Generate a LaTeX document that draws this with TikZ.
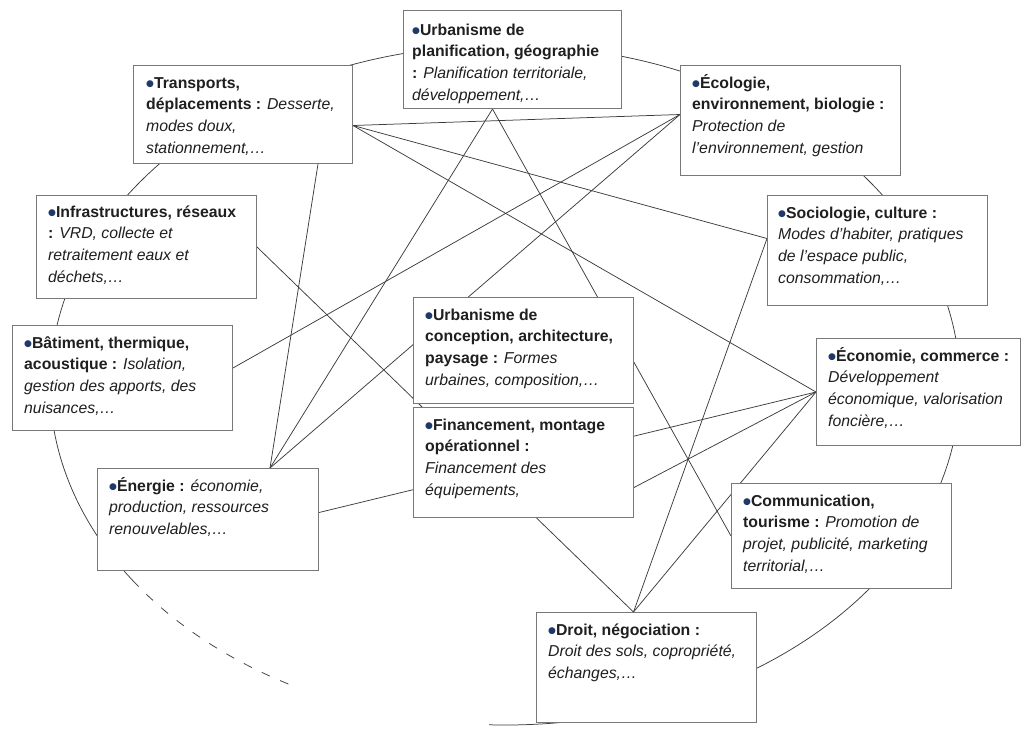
\documentclass[tikz,border=0pt]{standalone}
\usepackage{fontspec}
\setmainfont{Liberation Sans}
\newfontfamily\symboles{DejaVu Sans}
\usetikzlibrary{backgrounds}
\definecolor{puce}{HTML}{1F3A68}
\definecolor{trait}{HTML}{3C3C3C}
\definecolor{cadre}{HTML}{787878}
\newcommand{\puce}{{\color{puce}\raisebox{2pt}{\symboles\fontsize{9}{9}\selectfont ●}}}
\newcommand{\hautligne}{\rule{0pt}{15pt}}

\begin{document}
\begin{tikzpicture}[x=1pt,y=1pt,
	domaine/.style={draw=cadre,line width=1pt,fill=white,anchor=north west,inner sep=0pt},
	texte/.style={anchor=north west,align=left,inner sep=0pt,text=black!88,
		font=\fontsize{15.8}{21.7}\selectfont},
	lien/.style={draw=trait,line width=0.75pt}]
	\useasboundingbox (0,0) rectangle (1022,-728);
	\coordinate (centre) at (505,-385);
	% le grand cercle
	\draw[lien] (centre) ++(-92:455 and 340) arc[start angle=-92,end angle=215,x radius=455,y radius=340];
	\draw[lien,dash pattern=on 9pt off 11pt] (centre) ++(215:455 and 340) arc[start angle=215,end angle=242,x radius=455,y radius=340];

	% les domaines
	\node[domaine,minimum width=219,minimum height=98] (transports) at (133,-65) {};
	\node[domaine,minimum width=218,minimum height=98] (planif) at (403,-10) {};
	\node[domaine,minimum width=220,minimum height=110] (ecologie) at (680,-65) {};
	\node[domaine,minimum width=220,minimum height=103] (infra) at (36,-195) {};
	\node[domaine,minimum width=220,minimum height=110] (socio) at (767,-195) {};
	\node[domaine,minimum width=220,minimum height=105] (batiment) at (12,-325) {};
	\node[domaine,minimum width=220,minimum height=106] (conception) at (413,-297) {};
	\node[domaine,minimum width=204,minimum height=107] (economie) at (816,-338) {};
	\node[domaine,minimum width=221,minimum height=102] (energie) at (97,-468) {};
	\node[domaine,minimum width=220,minimum height=110] (financement) at (413,-407) {};
	\node[domaine,minimum width=220,minimum height=105] (communication) at (731,-483) {};
	\node[domaine,minimum width=220,minimum height=110] (droit) at (536,-612) {};

	% les textes
	\node[texte] (transports-t) at ([shift={(13,-8)}]transports.north west)
		{\hautligne\puce\textbf{Transports,}\\\textbf{déplacements :} \textit{Desserte,}\\\textit{modes doux,}\\\textit{stationnement,…}};
	\node[texte] (planif-t) at ([shift={(9,-10)}]planif.north west)
		{\hautligne\puce\textbf{Urbanisme de}\\\textbf{planification, géographie}\\\textbf{:} \textit{Planification territoriale,}\\\textit{développement,…}};
	\node[texte] (ecologie-t) at ([shift={(12,-8)}]ecologie.north west)
		{\hautligne\puce\textbf{Écologie,}\\\textbf{environnement, biologie :}\\\textit{Protection de}\\\textit{l’environnement, gestion}};
	\node[texte] (infra-t) at ([shift={(12,-7)}]infra.north west)
		{\hautligne\puce\textbf{Infrastructures, réseaux}\\\textbf{:} \textit{VRD, collecte et}\\\textit{retraitement eaux et}\\\textit{déchets,…}};
	\node[texte] (socio-t) at ([shift={(11,-8)}]socio.north west)
		{\hautligne\puce\textbf{Sociologie, culture :}\\\textit{Modes d’habiter, pratiques}\\\textit{de l’espace public,}\\\textit{consommation,…}};
	\node[texte] (batiment-t) at ([shift={(12,-8)}]batiment.north west)
		{\hautligne\puce\textbf{Bâtiment, thermique,}\\\textbf{acoustique :} \textit{Isolation,}\\\textit{gestion des apports, des}\\\textit{nuisances,…}};
	\node[texte] (conception-t) at ([shift={(12,-8)}]conception.north west)
		{\hautligne\puce\textbf{Urbanisme de}\\\textbf{conception, architecture,}\\\textbf{paysage :} \textit{Formes}\\\textit{urbaines, composition,…}};
	\node[texte] (economie-t) at ([shift={(12,-8)}]economie.north west)
		{\hautligne\puce\textbf{Économie, commerce :}\\\textit{Développement}\\\textit{économique, valorisation}\\\textit{foncière,…}};
	\node[texte] (energie-t) at ([shift={(12,-8)}]energie.north west)
		{\hautligne\puce\textbf{Énergie :} \textit{économie,}\\\textit{production, ressources}\\\textit{renouvelables,…}};
	\node[texte] (financement-t) at ([shift={(12,-8)}]financement.north west)
		{\hautligne\puce\textbf{Financement, montage}\\\textbf{opérationnel :}\\\textit{Financement des}\\\textit{équipements,}};
	\node[texte] (communication-t) at ([shift={(12,-8)}]communication.north west)
		{\hautligne\puce\textbf{Communication,}\\\textbf{tourisme :} \textit{Promotion de}\\\textit{projet, publicité, marketing}\\\textit{territorial,…}};
	\node[texte] (droit-t) at ([shift={(12,-8)}]droit.north west)
		{\hautligne\puce\textbf{Droit, négociation :}\\\textit{Droit des sols, copropriété,}\\\textit{échanges,…}};

	% les liens entre domaines
	\begin{scope}[on background layer]
		\draw[lien] ([yshift=-11pt]transports.east) -- ([yshift=6pt]ecologie.west);
		\draw[lien] ([yshift=-11pt]transports.east) -- ([yshift=12pt]socio.west);
		\draw[lien] ([yshift=-11pt]transports.east) -- (economie.west);
		\draw[lien] ([xshift=75pt]transports.south) -- ([xshift=62pt]energie.north);
		\draw[lien] ([xshift=-20pt]planif.south) -- ([xshift=62pt]energie.north);
		\draw[lien] ([xshift=-20pt]planif.south) -- (communication.west);
		\draw[lien] ([yshift=10pt]batiment.east) -- ([yshift=6pt]ecologie.west);
		\draw[lien] ([xshift=62pt]energie.north) -- ([yshift=6pt]ecologie.west);
		\draw[lien] (infra.east) -- ([xshift=-13pt]droit.north);
		\draw[lien] ([yshift=7pt]energie.east) -- (economie.west);
		\draw[lien] ([yshift=-25pt]financement.east) -- (economie.west);
		\draw[lien] ([xshift=-13pt]droit.north) -- (economie.west);
		\draw[lien] ([xshift=-13pt]droit.north) -- ([yshift=12pt]socio.west);
	\end{scope}
\end{tikzpicture}
\end{document}
